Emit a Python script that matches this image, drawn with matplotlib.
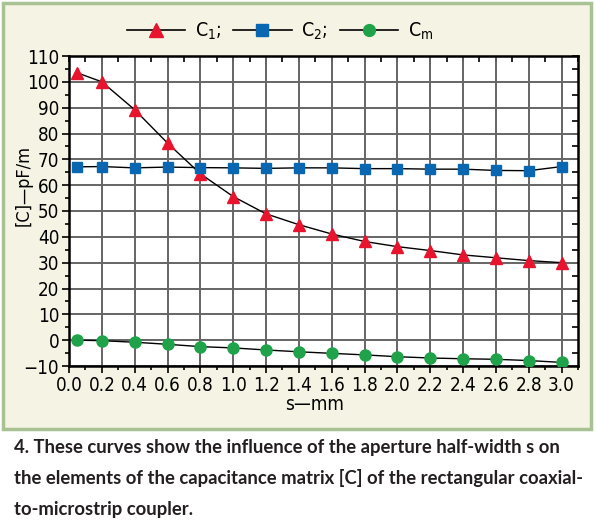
import matplotlib
matplotlib.use("Agg")
import matplotlib.pyplot as plt
from matplotlib.lines import Line2D
from matplotlib.patches import Rectangle
from matplotlib.ticker import MultipleLocator

# aperture half-width s (mm)
s = [0.05, 0.2, 0.4, 0.6, 0.8, 1.0, 1.2, 1.4, 1.6, 1.8, 2.0, 2.2, 2.4, 2.6, 2.8, 3.0]
# capacitances (pF/m)
c1 = [103.5, 100.0, 89.2, 76.3, 64.4, 55.6, 48.9, 44.7, 41.1, 38.2, 36.2, 34.7, 33.0, 31.9, 30.8, 30.0]
c2 = [67.1, 67.2, 66.7, 67.0, 66.8, 66.7, 66.5, 66.7, 66.7, 66.4, 66.4, 66.2, 66.2, 65.7, 65.6, 67.2]
cm = [0.0, -0.2, -0.8, -1.6, -2.5, -3.0, -3.8, -4.5, -5.1, -5.7, -6.4, -6.9, -7.2, -7.4, -7.9, -8.6]

series_labels = [r"C$_\mathregular{1}$;", r"C$_\mathregular{2}$;", r"C$_\mathregular{m}$"]
caption = ["4. These curves show the influence of the aperture half-width s on",
           "the elements of the capacitance matrix [C] of the rectangular coaxial-",
           "to-microstrip coupler."]

W, H = 595, 532
plt.rcParams['font.family'] = ['DejaVu Sans']
plt.rcParams['font.stretch'] = 'condensed'
plt.rcParams['mathtext.fontset'] = 'custom'
plt.rcParams['mathtext.rm'] = 'DejaVu Sans:stretch=condensed'
plt.rcParams['mathtext.it'] = 'DejaVu Sans:stretch=condensed'

fig = plt.figure(figsize=(W / 100, H / 100), dpi=100, facecolor='white')

# cream panel with green border
fig.patches.append(Rectangle((3 / W, 1 - 429 / H), 588 / W, 426 / H, transform=fig.transFigure,
                             facecolor='#f5f3e3', edgecolor='#a9c294', linewidth=2.5, zorder=-5))

ax = fig.add_axes([69 / W, 1 - 366 / H, 509 / W, 310 / H])
ax.set_zorder(2)
ax.set_facecolor('white')

ax.plot(s, c1, color='black', lw=1.0, marker='^', ms=9, mfc='#e8132d', mec='#e8132d', zorder=3)
ax.plot(s, c2, color='black', lw=1.0, marker='s', ms=7.5, mfc='#0867b0', mec='#0867b0', zorder=3)
ax.plot(s, cm, color='black', lw=1.0, marker='o', ms=8, mfc='#1fa24a', mec='#1fa24a', zorder=3)

ax.set_xlim(0, 3.1)
ax.set_ylim(-10, 110)
ax.xaxis.set_minor_locator(MultipleLocator(0.1))
ax.yaxis.set_minor_locator(MultipleLocator(5))
ax.set_xticks([round(0.2 * i, 1) for i in range(16)])
ax.set_xticklabels(["%.1f" % (0.2 * i) for i in range(16)])
ax.set_yticks(range(-10, 111, 10))
ax.set_yticklabels([("\u2212%d" % -v) if v < 0 else str(v) for v in range(-10, 111, 10)])
ax.grid(True, which='major', color='#656565', lw=1.4)
ax.set_axisbelow(True)

for sp in ax.spines.values():
    sp.set_linewidth(1.8)
    sp.set_color('black')
ax.tick_params(which='both', direction='out', width=1.2, labelsize=13.5, colors='black', pad=2)
ax.tick_params(which='major', length=5)
ax.tick_params(which='minor', length=3)
# inward ticks on the top and right edges
axt = ax.secondary_xaxis('top')
axt.xaxis.set_major_locator(MultipleLocator(0.1))
axt.tick_params(direction='in', length=4, width=1.2, labeltop=False)
axr = ax.secondary_yaxis('right')
axr.yaxis.set_major_locator(MultipleLocator(5))
axr.tick_params(direction='in', length=4, width=1.2, labelright=False)

fig.text(315 / W, 1 - 405 / H, "s\u2014mm", ha='center', va='center', fontsize=13.5)
fig.text(24 / W, 1 - 186 / H, "[C]\u2014pF/m", ha='center', va='center', rotation=90, fontsize=13)

handles = [Line2D([], [], color='black', lw=1.2, marker='^', ms=10, mfc='#e8132d', mec='#e8132d'),
           Line2D([], [], color='black', lw=1.2, marker='s', ms=8, mfc='#0867b0', mec='#0867b0'),
           Line2D([], [], color='black', lw=1.2, marker='o', ms=8.5, mfc='#1fa24a', mec='#1fa24a')]
fig.legend(handles, series_labels, loc='center', bbox_to_anchor=(280 / W, 1 - 31 / H), ncol=3,
           frameon=False, fontsize=14, handlelength=3.0, handletextpad=0.5, columnspacing=0.6,
           numpoints=1)

for i, line in enumerate(caption):
    fig.text(14 / W, 1 - (447 + 31 * i) / H, line, ha='left', va='center', fontsize=13.3,
             fontweight='bold', family=['Lato', 'DejaVu Sans'], stretch='normal', color='#231f20')

fig.savefig('out.png', dpi=100, facecolor='white')
